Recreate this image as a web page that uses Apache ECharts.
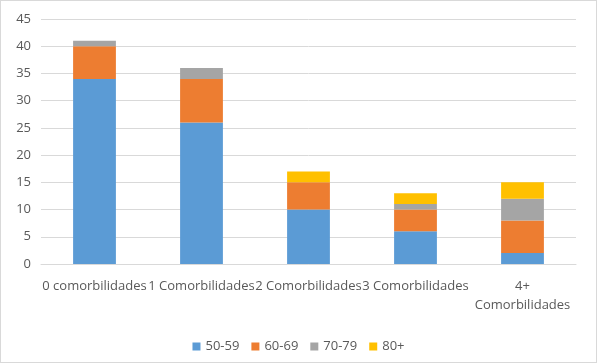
<!DOCTYPE html>
<html>
<head>
<meta charset="utf-8">
<script src="https://cdn.jsdelivr.net/npm/echarts@6/dist/echarts.min.js"></script>
<style>
  html, body { margin: 0; padding: 0; background: #fff; }
  #chart { width: 595px; height: 361px; border: 1px solid #d9d9d9; }
</style>
</head>
<body>
<div id="chart"></div>
<script>
const categories = ['0 comorbilidades', '1 Comorbilidades', '2 Comorbilidades', '3 Comorbilidades', '4+\nComorbilidades']
const age5059 = [34, 26, 10, 6, 2]
const age6069 = [6, 8, 5, 4, 6]
const age7079 = [1, 2, 0, 1, 4]
const age80 = [0, 0, 2, 2, 3]

const textColor = '#595959'
const chart = echarts.init(document.getElementById('chart'))

chart.setOption({
  animation: false,
  textStyle: { fontFamily: 'Open Sans' },
  legend: {
    bottom: 4,
    left: 'center',
    itemWidth: 8,
    itemHeight: 8,
    itemGap: 12,
    icon: 'rect',
    textStyle: { color: textColor, fontSize: 13 },
    data: ['50-59', '60-69', '70-79', '80+']
  },
  grid: { left: 40, right: 20, top: 18, bottom: 98 },
  xAxis: {
    type: 'category',
    data: categories,
    axisLine: { lineStyle: { color: '#d9d9d9' } },
    axisTick: { show: false },
    axisLabel: { color: textColor, fontSize: 13, interval: 0, margin: 13, lineHeight: 19 }
  },
  yAxis: {
    type: 'value',
    min: 0,
    max: 45,
    interval: 5,
    axisLine: { show: false },
    axisTick: { show: false },
    axisLabel: { color: textColor, fontSize: 13, margin: 10 },
    splitLine: { lineStyle: { color: '#d9d9d9' } }
  },
  series: [
    { name: '50-59', type: 'bar', stack: 'total', barWidth: '40%', itemStyle: { color: '#5b9bd5' }, data: age5059 },
    { name: '60-69', type: 'bar', stack: 'total', itemStyle: { color: '#ed7d31' }, data: age6069 },
    { name: '70-79', type: 'bar', stack: 'total', itemStyle: { color: '#a5a5a5' }, data: age7079 },
    { name: '80+', type: 'bar', stack: 'total', itemStyle: { color: '#ffc000' }, data: age80 }
  ]
})
</script>
</body>
</html>
